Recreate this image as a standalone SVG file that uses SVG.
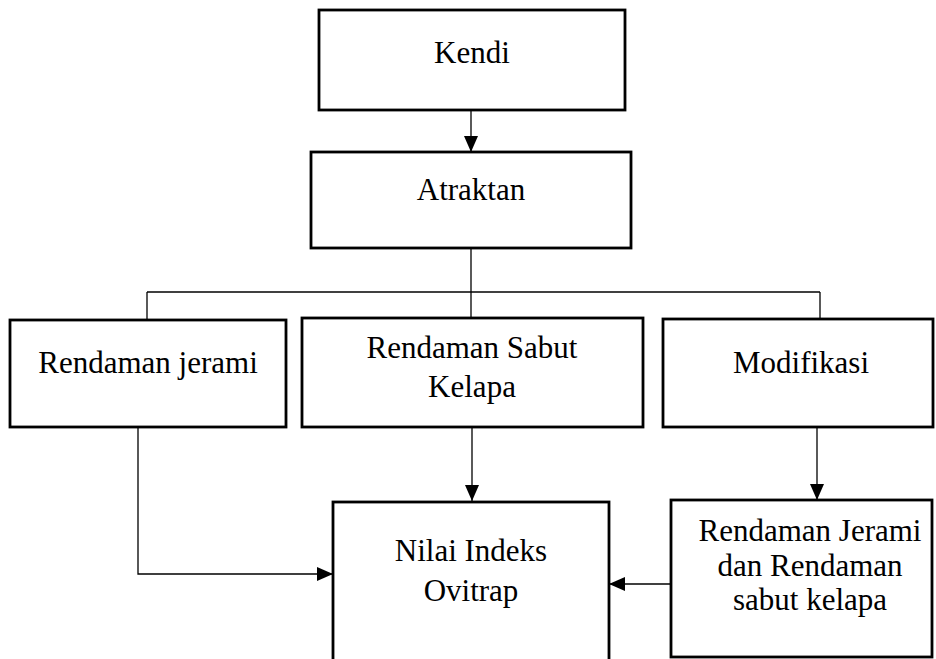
<svg xmlns="http://www.w3.org/2000/svg" width="936" height="659" viewBox="0 0 936 659">
<defs>
<marker id="arr" markerUnits="userSpaceOnUse" markerWidth="16" markerHeight="14" refX="16" refY="7" orient="auto">
<path d="M0,0 L16,7 L0,14 Z" fill="#000"/>
</marker>
<style>
.box{fill:#fff;stroke:#000;stroke-width:2.8}
.lbl{font-family:"Liberation Serif","Times New Roman",serif;font-size:31px;fill:#000;text-anchor:middle}
.con{fill:none;stroke:#000;stroke-width:1.3}
</style>
</defs>
<rect width="936" height="659" fill="#fff"/>
<g id="connectors">
<path class="con" d="M471,110 V152" marker-end="url(#arr)"/>
<path class="con" d="M471,248 V292"/>
<path class="con" d="M147,292 H820"/>
<path class="con" d="M147,292 V320"/>
<path class="con" d="M471,292 V318"/>
<path class="con" d="M820,292 V319"/>
<path class="con" d="M138,427 V574 H333" marker-end="url(#arr)"/>
<path class="con" d="M472,427 V501" marker-end="url(#arr)"/>
<path class="con" d="M817,427 V500" marker-end="url(#arr)"/>
<path class="con" d="M671,584 H609" marker-end="url(#arr)"/>
</g>
<g id="kendi">
<rect class="box" x="319" y="10" width="306" height="100"/>
<text class="lbl" x="472" y="63">Kendi</text>
</g>
<g id="atraktan">
<rect class="box" x="311" y="152" width="320" height="96"/>
<text class="lbl" x="471" y="200">Atraktan</text>
</g>
<g id="rendaman-jerami">
<rect class="box" x="10" y="320" width="276" height="107"/>
<text class="lbl" x="148" y="373">Rendaman jerami</text>
</g>
<g id="rendaman-sabut">
<rect class="box" x="302" y="318" width="341" height="109"/>
<text class="lbl" x="472" y="358">Rendaman Sabut</text>
<text class="lbl" x="472" y="397">Kelapa</text>
</g>
<g id="modifikasi">
<rect class="box" x="663" y="319" width="270" height="108"/>
<text class="lbl" x="801" y="373">Modifikasi</text>
</g>
<g id="nilai-indeks">
<rect class="box" x="333" y="502" width="276" height="180"/>
<text class="lbl" x="471" y="561">Nilai Indeks</text>
<text class="lbl" x="471" y="601">Ovitrap</text>
</g>
<g id="rendaman-kombinasi">
<rect class="box" x="671" y="500" width="261" height="157"/>
<text class="lbl" x="810" y="541">Rendaman Jerami</text>
<text class="lbl" x="810" y="576">dan Rendaman</text>
<text class="lbl" x="810" y="610">sabut kelapa</text>
</g>
</svg>
